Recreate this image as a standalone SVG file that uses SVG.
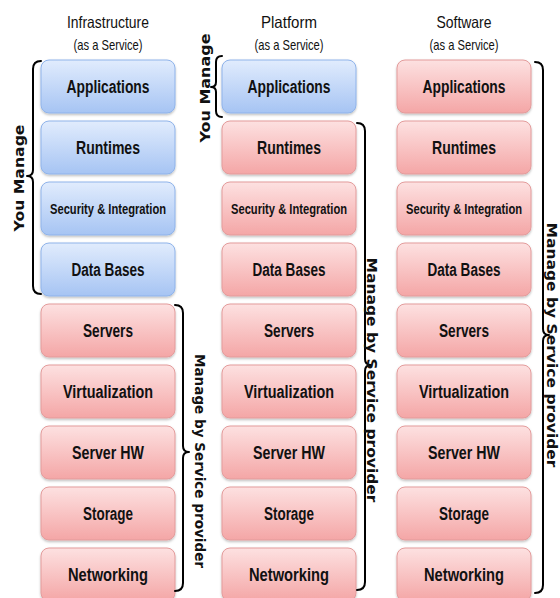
<svg xmlns="http://www.w3.org/2000/svg" width="560" height="598" viewBox="0 0 560 598">
  <defs>
    <linearGradient id="gBlue" x1="0" y1="0" x2="0" y2="1">
      <stop offset="0" stop-color="#e1ecfd"/>
      <stop offset="1" stop-color="#a6c4f3"/>
    </linearGradient>
    <linearGradient id="gRed" x1="0" y1="0" x2="0" y2="1">
      <stop offset="0" stop-color="#fde1e1"/>
      <stop offset="1" stop-color="#f4a6a6"/>
    </linearGradient>
    <filter id="shadow" x="-10%" y="-10%" width="120%" height="130%">
      <feDropShadow dx="0" dy="1.5" stdDeviation="1.2" flood-color="#000" flood-opacity="0.25"/>
    </filter>
  </defs>
  <style>
    .box { stroke-width: 1; filter: url(#shadow); }
    .blue { fill: url(#gBlue); stroke: #8fb3ea; }
    .red { fill: url(#gRed); stroke: #e39b9b; }
    .lbl { font-family: "Liberation Sans", Arial, sans-serif; font-weight: bold; font-size: 18px; fill: #111; text-anchor: middle; }
    .lbl.sm { font-size: 15px; }
    .title { font-family: "Liberation Sans", Arial, sans-serif; font-size: 16.5px; fill: #111; text-anchor: middle; }
    .sub { font-family: "Liberation Sans", Arial, sans-serif; font-size: 14.5px; fill: #111; text-anchor: middle; }
    .brace { fill: none; stroke: #000; stroke-width: 2; stroke-linecap: round; stroke-linejoin: round; }
    .side { font-family: "DejaVu Sans", Verdana, sans-serif; font-weight: bold; font-size: 14px; fill: #111; text-anchor: middle; }
  </style>

  <!-- column headings -->
  <g id="titles">
    <text class="title" x="108" y="28" textLength="82" lengthAdjust="spacingAndGlyphs">Infrastructure</text>
    <text class="sub" x="108" y="50" textLength="69" lengthAdjust="spacingAndGlyphs">(as a Service)</text>
    <text class="title" x="289" y="28" textLength="56" lengthAdjust="spacingAndGlyphs">Platform</text>
    <text class="sub" x="289" y="50" textLength="69" lengthAdjust="spacingAndGlyphs">(as a Service)</text>
    <text class="title" x="464" y="28" textLength="55" lengthAdjust="spacingAndGlyphs">Software</text>
    <text class="sub" x="464" y="50" textLength="69" lengthAdjust="spacingAndGlyphs">(as a Service)</text>
  </g>

  <!-- Infrastructure as a Service stack -->
  <g id="iaas">
    <g id="iaas-applications"><rect class="box blue" x="41" y="60" width="134" height="53" rx="8"/><text class="lbl" x="108" y="93" textLength="83" lengthAdjust="spacingAndGlyphs">Applications</text></g>
    <g id="iaas-runtimes"><rect class="box blue" x="41" y="121" width="134" height="53" rx="8"/><text class="lbl" x="108" y="154" textLength="64" lengthAdjust="spacingAndGlyphs">Runtimes</text></g>
    <g id="iaas-security"><rect class="box blue" x="41" y="182" width="134" height="53" rx="8"/><text class="lbl sm" transform="translate(108,214) scale(0.745,1)">Security &amp; Integration</text></g>
    <g id="iaas-databases"><rect class="box blue" x="41" y="243" width="134" height="53" rx="8"/><text class="lbl" x="108" y="276" textLength="73" lengthAdjust="spacingAndGlyphs">Data Bases</text></g>
    <g id="iaas-servers"><rect class="box red" x="41" y="304" width="134" height="53" rx="8"/><text class="lbl" x="108" y="337" textLength="50" lengthAdjust="spacingAndGlyphs">Servers</text></g>
    <g id="iaas-virtualization"><rect class="box red" x="41" y="365" width="134" height="53" rx="8"/><text class="lbl" x="108" y="398" textLength="90" lengthAdjust="spacingAndGlyphs">Virtualization</text></g>
    <g id="iaas-serverhw"><rect class="box red" x="41" y="426" width="134" height="53" rx="8"/><text class="lbl" x="108" y="459" textLength="72" lengthAdjust="spacingAndGlyphs">Server HW</text></g>
    <g id="iaas-storage"><rect class="box red" x="41" y="487" width="134" height="53" rx="8"/><text class="lbl" x="108" y="520" textLength="50" lengthAdjust="spacingAndGlyphs">Storage</text></g>
    <g id="iaas-networking"><rect class="box red" x="41" y="548" width="134" height="53" rx="8"/><text class="lbl" x="108" y="581" textLength="80" lengthAdjust="spacingAndGlyphs">Networking</text></g>
  </g>

  <!-- Platform as a Service stack -->
  <g id="paas">
    <g id="paas-applications"><rect class="box blue" x="222" y="60" width="134" height="53" rx="8"/><text class="lbl" x="289" y="93" textLength="83" lengthAdjust="spacingAndGlyphs">Applications</text></g>
    <g id="paas-runtimes"><rect class="box red" x="222" y="121" width="134" height="53" rx="8"/><text class="lbl" x="289" y="154" textLength="64" lengthAdjust="spacingAndGlyphs">Runtimes</text></g>
    <g id="paas-security"><rect class="box red" x="222" y="182" width="134" height="53" rx="8"/><text class="lbl sm" transform="translate(289,214) scale(0.745,1)">Security &amp; Integration</text></g>
    <g id="paas-databases"><rect class="box red" x="222" y="243" width="134" height="53" rx="8"/><text class="lbl" x="289" y="276" textLength="73" lengthAdjust="spacingAndGlyphs">Data Bases</text></g>
    <g id="paas-servers"><rect class="box red" x="222" y="304" width="134" height="53" rx="8"/><text class="lbl" x="289" y="337" textLength="50" lengthAdjust="spacingAndGlyphs">Servers</text></g>
    <g id="paas-virtualization"><rect class="box red" x="222" y="365" width="134" height="53" rx="8"/><text class="lbl" x="289" y="398" textLength="90" lengthAdjust="spacingAndGlyphs">Virtualization</text></g>
    <g id="paas-serverhw"><rect class="box red" x="222" y="426" width="134" height="53" rx="8"/><text class="lbl" x="289" y="459" textLength="72" lengthAdjust="spacingAndGlyphs">Server HW</text></g>
    <g id="paas-storage"><rect class="box red" x="222" y="487" width="134" height="53" rx="8"/><text class="lbl" x="289" y="520" textLength="50" lengthAdjust="spacingAndGlyphs">Storage</text></g>
    <g id="paas-networking"><rect class="box red" x="222" y="548" width="134" height="53" rx="8"/><text class="lbl" x="289" y="581" textLength="80" lengthAdjust="spacingAndGlyphs">Networking</text></g>
  </g>

  <!-- Software as a Service stack -->
  <g id="saas">
    <g id="saas-applications"><rect class="box red" x="397" y="60" width="134" height="53" rx="8"/><text class="lbl" x="464" y="93" textLength="83" lengthAdjust="spacingAndGlyphs">Applications</text></g>
    <g id="saas-runtimes"><rect class="box red" x="397" y="121" width="134" height="53" rx="8"/><text class="lbl" x="464" y="154" textLength="64" lengthAdjust="spacingAndGlyphs">Runtimes</text></g>
    <g id="saas-security"><rect class="box red" x="397" y="182" width="134" height="53" rx="8"/><text class="lbl sm" transform="translate(464,214) scale(0.745,1)">Security &amp; Integration</text></g>
    <g id="saas-databases"><rect class="box red" x="397" y="243" width="134" height="53" rx="8"/><text class="lbl" x="464" y="276" textLength="73" lengthAdjust="spacingAndGlyphs">Data Bases</text></g>
    <g id="saas-servers"><rect class="box red" x="397" y="304" width="134" height="53" rx="8"/><text class="lbl" x="464" y="337" textLength="50" lengthAdjust="spacingAndGlyphs">Servers</text></g>
    <g id="saas-virtualization"><rect class="box red" x="397" y="365" width="134" height="53" rx="8"/><text class="lbl" x="464" y="398" textLength="90" lengthAdjust="spacingAndGlyphs">Virtualization</text></g>
    <g id="saas-serverhw"><rect class="box red" x="397" y="426" width="134" height="53" rx="8"/><text class="lbl" x="464" y="459" textLength="72" lengthAdjust="spacingAndGlyphs">Server HW</text></g>
    <g id="saas-storage"><rect class="box red" x="397" y="487" width="134" height="53" rx="8"/><text class="lbl" x="464" y="520" textLength="50" lengthAdjust="spacingAndGlyphs">Storage</text></g>
    <g id="saas-networking"><rect class="box red" x="397" y="548" width="134" height="53" rx="8"/><text class="lbl" x="464" y="581" textLength="80" lengthAdjust="spacingAndGlyphs">Networking</text></g>
  </g>

  <!-- curly braces grouping the layers -->
  <g id="braces">
    <!-- IaaS: you manage (left) -->
    <path class="brace" d="M41,61 Q33,61 33,69 L33,170 Q33,176 27,176 Q33,176 33,182 L33,286 Q33,294 41,294"/>
    <!-- IaaS: provider (right) -->
    <path class="brace" d="M175,305 Q183,305 183,313 L183,446 Q183,452 189,452 Q183,452 183,458 L183,583 Q183,591 175,591"/>
    <!-- PaaS: you manage (left) -->
    <path class="brace" d="M222,56 Q216,56 216,62 L216,82 Q216,87 211,87 Q216,87 216,92 L216,111 Q216,117 222,117"/>
    <!-- PaaS: provider (right) -->
    <path class="brace" d="M357,123 Q365,123 365,131 L365,359 Q365,365 371,365 Q365,365 365,371 L365,582 Q365,590 357,590"/>
    <!-- SaaS: provider (right) -->
    <path class="brace" d="M535,62 Q543,62 543,70 L543,329 Q543,335 549,335 Q543,335 543,341 L543,585 Q543,593 535,593"/>
  </g>

  <!-- brace captions -->
  <g id="captions">
    <text class="side" transform="translate(24,178) rotate(-90)" textLength="107" lengthAdjust="spacingAndGlyphs">You Manage</text>
    <text class="side" transform="translate(210,88) rotate(-90)" textLength="109" lengthAdjust="spacingAndGlyphs">You Manage</text>
    <text class="side" transform="translate(195,461) rotate(90)" textLength="214" lengthAdjust="spacingAndGlyphs">Manage by Service provider</text>
    <text class="side" transform="translate(367,380) rotate(90)" textLength="245" lengthAdjust="spacingAndGlyphs">Manage by Service provider</text>
    <text class="side" transform="translate(547,345) rotate(90)" textLength="245" lengthAdjust="spacingAndGlyphs">Manage by Service provider</text>
  </g>
</svg>
